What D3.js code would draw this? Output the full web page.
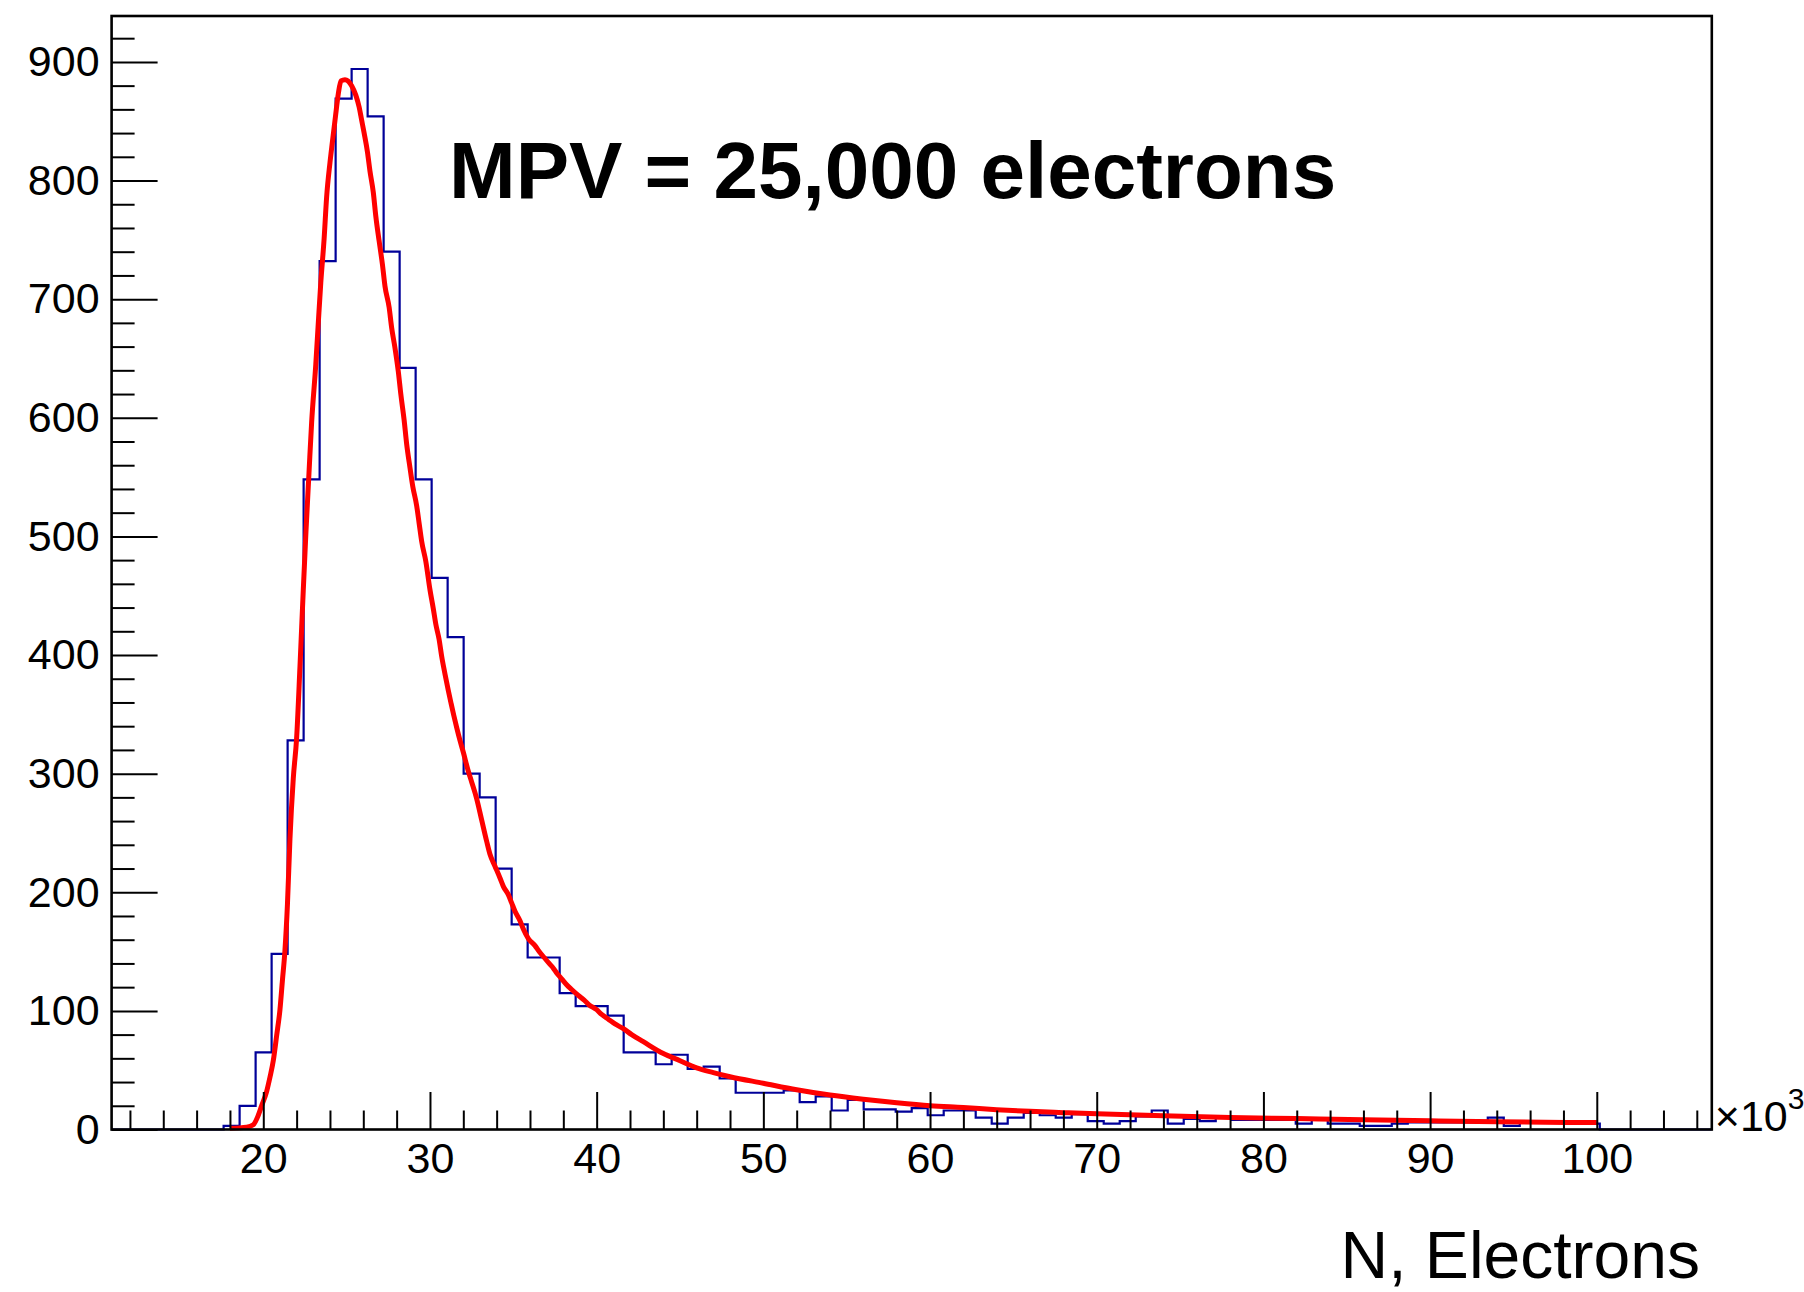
<!DOCTYPE html>
<html>
<head>
<meta charset="utf-8">
<script src="https://cdn.jsdelivr.net/npm/d3@7"></script>
<style>
  html, body { margin: 0; padding: 0; background: #ffffff; }
  svg { display: block; }
  text { font-family: "Liberation Sans", Arial, Helvetica, sans-serif; }
</style>
</head>
<body>
<script>
// ---------------- data ----------------
const xRange = [10.9, 106.9];          // axis range (x 10^3 electrons)
const yRange = [0, 938.7];
const nBins = 100;                      // histogram bins over the axis range
const binCounts = [
  0, 0, 0, 0, 0, 0, 0, 3, 20, 65,
  148, 328, 548, 732, 869, 894, 854, 740, 642, 548,
  465, 415, 300, 280, 220, 173, 145, 145, 115, 104,
  104, 96, 65, 65, 55, 63, 51, 53, 43, 31,
  31, 31, 33, 23, 28, 16, 25, 17, 17, 15,
  18, 12, 16, 16, 10, 5, 10, 14, 12, 10,
  13, 7, 5, 7, 11, 16, 5, 9, 7, 11,
  8, 8, 8, 8, 5, 8, 5, 5, 3, 3,
  5, 6, 6, 6, 6, 6, 10, 3, 6, 6,
  6, 6, 5, 0, 0, 0, 0, 0, 0, 0
];
const fitX = [18.0, 19.0, 19.4, 19.7, 19.9, 20.2, 20.4, 20.6, 20.8, 21.0, 21.15, 21.3, 21.45, 21.6, 21.8,
  22.0, 22.2, 22.4, 22.56, 22.74, 22.9, 23.15, 23.3, 23.45, 23.65, 23.8, 24.0, 24.15, 24.33, 24.5, 24.66,
  24.9, 25.3, 25.55, 25.75, 25.9, 26.05, 26.25, 26.4, 26.6, 26.75, 26.95, 27.15, 27.3, 27.55, 27.7, 27.9,
  28.1, 28.25, 28.45, 28.6, 28.8, 28.97, 29.2, 29.35, 29.5, 29.75, 30.0, 30.2, 30.35, 30.55, 30.7, 30.9,
  31.1, 31.27, 31.43, 31.6, 31.8, 32.0, 32.3, 32.5, 32.8, 33.1, 33.4, 33.6, 33.9, 34.2, 34.4, 34.7, 34.9,
  35.1, 35.4, 35.6, 35.9, 36.3, 36.55, 36.85, 37.15, 37.4, 37.6, 37.9, 38.2, 38.5, 38.9, 39.25, 39.55,
  40.0, 40.3, 40.7, 41.1, 41.6, 42.1, 42.8, 44.0, 45.0, 46.0, 47.0, 48.0, 50.0, 52.0, 54.0, 56.0, 58.0,
  60.0, 62.0, 64.0, 66.0, 68.0, 70.0, 74.0, 78.0, 82.0, 86.0, 90.0, 94.0, 100.0];
const fitY = [1, 2, 4, 12, 20, 32, 44, 58, 79, 101, 126, 151, 190, 245, 296,
  330, 390, 455, 504, 553, 596, 645, 680, 714, 751, 786, 815, 833, 854, 873, 884,
  885, 880, 872, 862, 851, 840, 824, 808, 790, 770, 749, 729, 711, 693, 676, 659,
  639, 620, 598, 578, 558, 542, 526, 511, 496, 479, 455, 439, 426, 413, 399, 384,
  370, 359, 349, 339, 328, 318, 302, 293, 279, 261, 243, 232, 222, 212, 205, 198, 191,
  184, 176, 169, 161, 155, 150, 145, 140, 136, 132, 127, 122, 118, 113, 109, 105,
  101, 97, 93, 89, 85, 80, 74, 64, 58, 52, 48, 44.5, 39, 33.5, 29, 25.5, 22.5,
  20, 18.5, 16.7, 15.3, 14.2, 13.2, 11.6, 10.2, 9.2, 8.2, 7.3, 6.5, 5.8];
const xMajorTicks = [20, 30, 40, 50, 60, 70, 80, 90, 100];
const xMinorTicks = [12, 14, 16, 18, 22, 24, 26, 28, 32, 34, 36, 38, 42, 44, 46, 48, 52, 54, 56, 58,
  62, 64, 66, 68, 72, 74, 76, 78, 82, 84, 86, 88, 92, 94, 96, 98, 102, 104, 106];
const yMajorTicks = [0, 100, 200, 300, 400, 500, 600, 700, 800, 900];
const yMinorTicks = [20, 40, 60, 80, 120, 140, 160, 180, 220, 240, 260, 280, 320, 340, 360, 380,
  420, 440, 460, 480, 520, 540, 560, 580, 620, 640, 660, 680, 720, 740, 760, 780, 820, 840, 860, 880, 920];
const annotation = "MPV = 25,000 electrons";
const xTitle = "N, Electrons";

// ---------------- layout ----------------
const W = 1804, H = 1292;
const frame = { left: 111.6, right: 1711.8, top: 16, bottom: 1129.5 };

const svg = d3.select("body").append("svg").attr("width", W).attr("height", H);

const x = d3.scaleLinear().domain(xRange).range([frame.left, frame.right]);
const y = d3.scaleLinear().domain(yRange).range([frame.bottom, frame.top]);

// histogram bins
const binW = (xRange[1] - xRange[0]) / nBins;
const stepPts = binCounts.map((c, i) => [xRange[0] + i * binW, c]);
stepPts.push([xRange[1], binCounts[nBins - 1]]);

svg.append("path")
  .attr("d", d3.line().x(d => x(d[0])).y(d => y(d[1])).curve(d3.curveStepAfter)(stepPts))
  .attr("fill", "none")
  .attr("stroke", "#000099")
  .attr("stroke-width", 2.2);

// fit curve
const fitPts = fitX.map((v, i) => [v, fitY[i]]);
svg.append("path")
  .attr("d", d3.line().x(d => x(d[0])).y(d => y(d[1])).curve(d3.curveMonotoneX)(fitPts))
  .attr("fill", "none")
  .attr("stroke", "#ff0000")
  .attr("stroke-width", 5)
  .attr("stroke-linejoin", "round");

// axes
const gx = svg.append("g").attr("transform", `translate(0,${frame.bottom})`);
gx.call(d3.axisBottom(x).tickValues(xMajorTicks).tickSize(-37.5).tickPadding(13).tickFormat(d3.format("d")));
const gxm = svg.append("g").attr("transform", `translate(0,${frame.bottom})`);
gxm.call(d3.axisBottom(x).tickValues(xMinorTicks).tickSize(-19).tickFormat(""));

const gy = svg.append("g").attr("transform", `translate(${frame.left},0)`);
gy.call(d3.axisLeft(y).tickValues(yMajorTicks).tickSize(-46).tickPadding(12).tickFormat(d3.format("d")));
const gym = svg.append("g").attr("transform", `translate(${frame.left},0)`);
gym.call(d3.axisLeft(y).tickValues(yMinorTicks).tickSize(-23).tickFormat(""));

svg.selectAll(".domain").remove();
svg.selectAll(".tick line").attr("stroke", "#000").attr("stroke-width", 2);
svg.selectAll(".tick text")
  .attr("fill", "#000")
  .style("font-size", "43px")
  .style("font-family", "'Liberation Sans', Arial, sans-serif");

// frame
svg.append("rect")
  .attr("x", frame.left).attr("y", frame.top)
  .attr("width", frame.right - frame.left).attr("height", frame.bottom - frame.top)
  .attr("fill", "none").attr("stroke", "#000").attr("stroke-width", 2.6);

// x10^3 multiplier
const mult = svg.append("text")
  .attr("x", frame.right + 3).attr("y", frame.bottom + 1)
  .style("font-size", "43px").attr("fill", "#000");
mult.append("tspan").text("\u00d710");
mult.append("tspan").attr("dy", -22).style("font-size", "30px").text("3");

// annotation
svg.append("text")
  .attr("x", 449).attr("y", 198)
  .style("font-size", "80px").style("font-weight", "bold")
  .attr("fill", "#000")
  .text(annotation);

// axis title
svg.append("text")
  .attr("x", 1700).attr("y", 1278)
  .attr("text-anchor", "end")
  .style("font-size", "66px")
  .attr("fill", "#000")
  .text(xTitle);
</script>
</body>
</html>
